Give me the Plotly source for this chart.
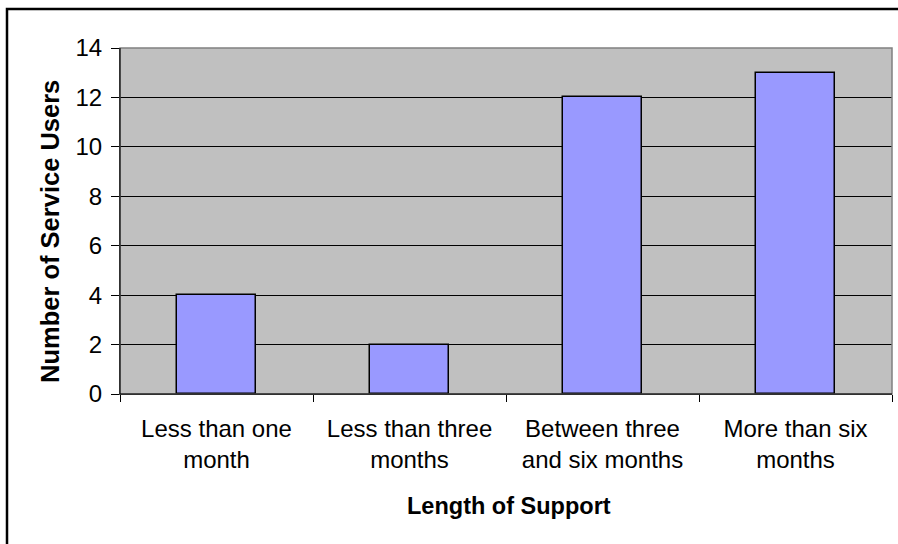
import plotly.graph_objects as go

# Length of time each service user has been supported
categories = [
    "Less than one<br>month",
    "Less than three<br>months",
    "Between three<br>and six months",
    "More than six<br>months",
]
service_users = [4, 2, 12, 13]
y_ticks = [0, 2, 4, 6, 8, 10, 12, 14]

FONT = "Liberation Sans, Arial, sans-serif"
W, H = 898, 544
M_L, M_R, M_T, M_B = 120, 6, 48, 150
plot_w = W - M_L - M_R
plot_h = H - M_T - M_B


def px_to_paper_x(px):
    return (px - M_L) / plot_w


def px_to_paper_y(py):
    return (H - M_B - py) / plot_h


fig = go.Figure(
    go.Bar(
        x=categories,
        y=service_users,
        width=0.41,
        marker=dict(color="#9999FF", line=dict(color="#000000", width=1.5)),
        hoverinfo="x+y",
    )
)

fig.update_layout(
    width=W,
    height=H,
    margin=dict(l=M_L, r=M_R, t=M_T, b=M_B),
    paper_bgcolor="#FFFFFF",
    plot_bgcolor="#C0C0C0",
    font=dict(family=FONT, size=24, color="#000000"),
    showlegend=False,
    bargap=0,
    xaxis=dict(
        type="category",
        tickson="boundaries",
        ticks="outside",
        ticklen=7,
        tickwidth=1,
        tickcolor="#000000",
        showline=True,
        linecolor="#000000",
        linewidth=1,
        showgrid=False,
        tickfont=dict(size=24),
        ticklabelstandoff=13,
        range=[-0.5, 3.5],
        fixedrange=True,
    ),
    yaxis=dict(
        range=[0, 14],
        tickvals=y_ticks,
        ticks="outside",
        ticklen=8,
        tickwidth=1,
        tickcolor="#000000",
        showline=True,
        linecolor="#000000",
        linewidth=1,
        showgrid=True,
        gridcolor="#000000",
        gridwidth=1,
        zeroline=False,
        tickfont=dict(size=24),
        ticklabelstandoff=4,
        fixedrange=True,
    ),
    shapes=[
        # grey frame around the plotting area (top and right edges)
        dict(
            type="rect", xref="paper", yref="paper",
            x0=0, x1=1, y0=0, y1=1,
            line=dict(color="#808080", width=1.5),
            layer="above",
        ),
        # outer chart border
        dict(
            type="rect", xref="paper", yref="paper",
            x0=px_to_paper_x(7), x1=px_to_paper_x(W + 10),
            y0=px_to_paper_y(H + 10), y1=px_to_paper_y(9),
            line=dict(color="#000000", width=2.5),
            layer="above",
        ),
    ],
    annotations=[
        dict(
            text="<b>Length of Support</b>",
            xref="paper", yref="paper",
            x=px_to_paper_x(509), y=px_to_paper_y(506),
            xanchor="center", yanchor="middle",
            showarrow=False, font=dict(size=23.5),
        ),
        dict(
            text="<b>Number of Service Users</b>",
            xref="paper", yref="paper",
            x=px_to_paper_x(50), y=px_to_paper_y(232),
            xanchor="center", yanchor="middle",
            textangle=-90,
            showarrow=False, font=dict(size=25.5),
        ),
    ],
)

# black axis lines drawn over the grey frame on the left and bottom
fig.add_shape(type="line", xref="paper", yref="paper", x0=0, x1=0, y0=0, y1=1,
              line=dict(color="#000000", width=1), layer="above")
fig.add_shape(type="line", xref="paper", yref="paper", x0=0, x1=1, y0=0, y1=0,
              line=dict(color="#000000", width=1), layer="above")

fig.write_html("out.html", config={"displayModeBar": False})
